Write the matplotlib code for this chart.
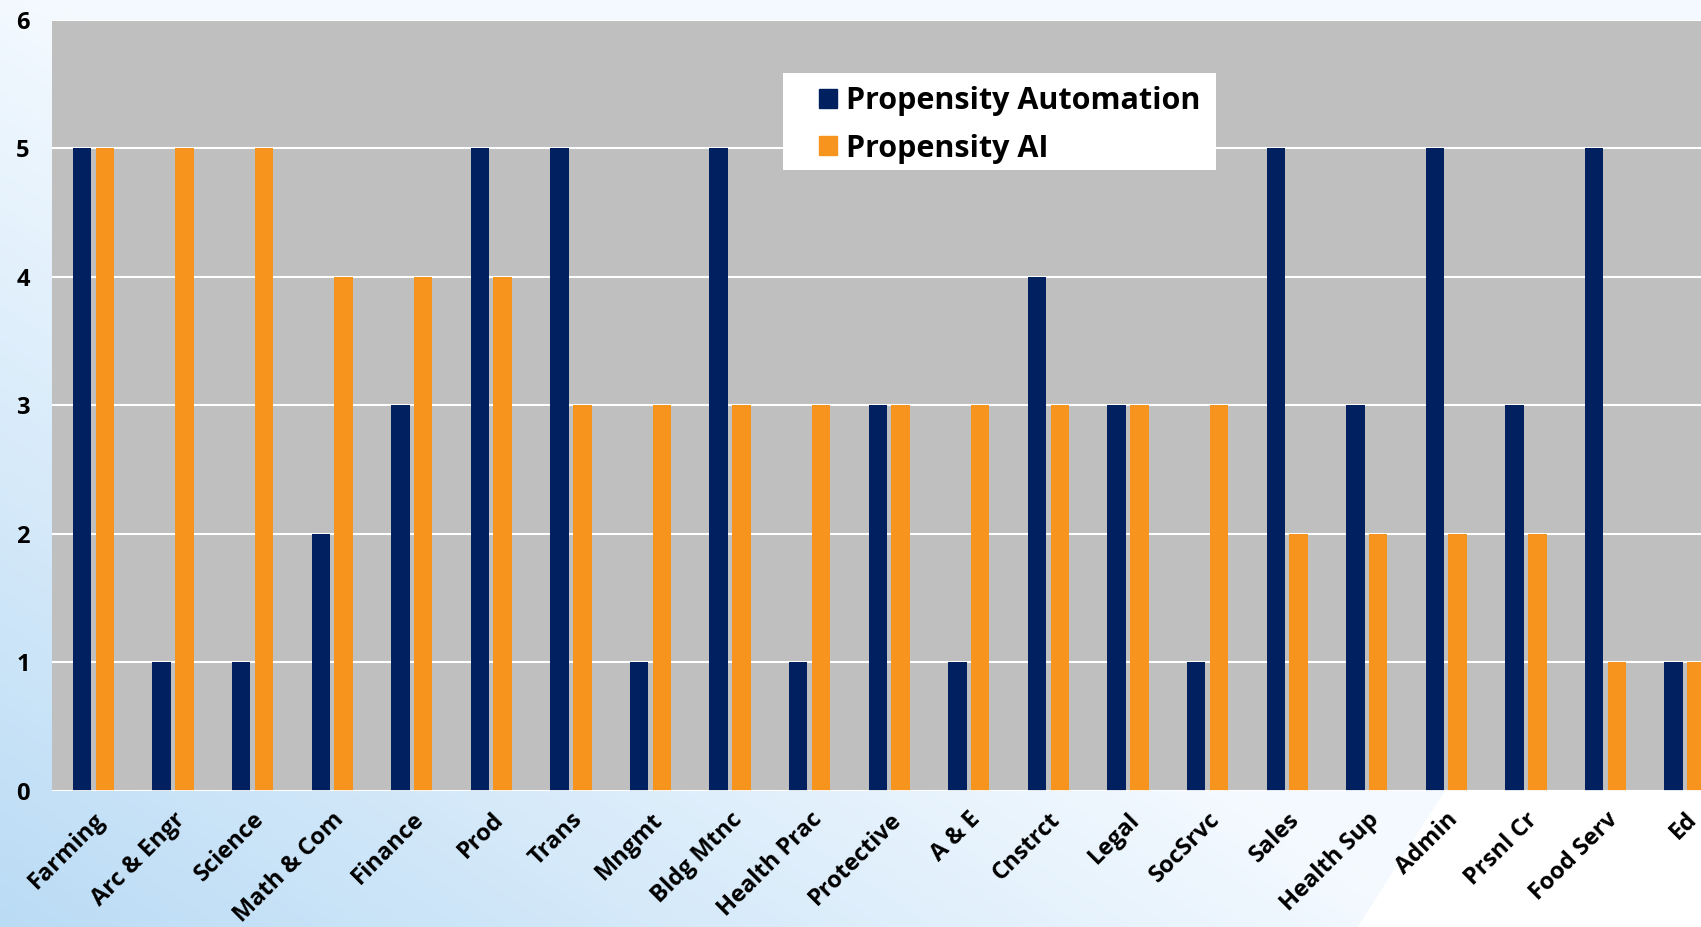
import numpy as np
import matplotlib
matplotlib.use("Agg")
import matplotlib.pyplot as plt
from matplotlib.patches import Patch, Rectangle

categories = ["Farming", "Arc & Engr", "Science", "Math & Com", "Finance", "Prod",
              "Trans", "Mngmt", "Bldg Mtnc", "Health Prac", "Protective", "A & E",
              "Cnstrct", "Legal", "SocSrvc", "Sales", "Health Sup", "Admin",
              "Prsnl Cr", "Food Serv", "Ed"]
automation = [5, 1, 1, 2, 3, 5, 5, 1, 5, 1, 3, 1, 4, 3, 1, 5, 3, 5, 3, 5, 1]
ai = [5, 5, 5, 4, 4, 4, 3, 3, 3, 3, 3, 3, 3, 3, 3, 2, 2, 2, 2, 1, 1]
y_ticks = [0, 1, 2, 3, 4, 5, 6]

NAVY = "#002060"
ORANGE = "#F7941E"
FONT = ["Open Sans", "DejaVu Sans"]

W, H = 1701, 927
fig = plt.figure(figsize=(W / 100, H / 100), dpi=100)

# background gradient: light blue bottom-left fading to white, white wedge bottom-right
yy, xx = np.mgrid[0:H, 0:W]
s = np.clip((xx + 1.5 * (H - yy)) / 1450.0, 0, 1)
blue = np.array([0.73, 0.86, 0.96])
white = np.array([0.96, 0.98, 1.0])
img = blue[None, None, :] * (1 - s[..., None]) + white[None, None, :] * s[..., None]
wedge = xx > 1356 + 0.64 * (H - yy)
img[wedge] = 1.0
bg = fig.add_axes([0, 0, 1, 1])
bg.imshow(img, aspect="auto", extent=[0, 1, 0, 1], origin="upper")
bg.axis("off")

ax = fig.add_axes([52 / W, 136 / H, 1 - 52 / W, 771.5 / H])
ax.set_facecolor("#BFBFBF")

x = np.arange(len(categories))
bw = 0.232
off = 0.143
ax.bar(x - off, automation, bw, color=NAVY, label="Propensity Automation", zorder=3)
ax.bar(x + off, ai, bw, color=ORANGE, label="Propensity AI", zorder=3)

ax.set_xlim(-0.52, 20.2)
ax.set_ylim(0, 6)
ax.set_yticks(y_ticks)
ax.set_yticklabels([str(v) for v in y_ticks], fontsize=17, fontweight="bold", family=FONT)
ax.yaxis.grid(True, color="white", linewidth=1.5, zorder=0)
ax.set_axisbelow(True)
ax.set_xticks(x)
ax.set_xticklabels(categories, rotation=45, ha="right", rotation_mode="anchor",
                   fontsize=17, fontweight="bold", family=FONT)
ax.tick_params(axis="both", length=0)
ax.tick_params(axis="y", pad=16)
ax.tick_params(axis="x", pad=12)
for sp in ax.spines.values():
    sp.set_visible(False)
ax.axhline(0, color="white", linewidth=2, zorder=4)

# legend box (white, no border) drawn behind a frameless legend
box = Rectangle((783 / W, 1 - 170 / H), (1216 - 783) / W, (170 - 73) / H,
                transform=fig.transFigure, facecolor="white", edgecolor="none", zorder=5)
fig.patches.append(box)
handles = [Patch(color=NAVY), Patch(color=ORANGE)]
leg = fig.legend(handles, ["Propensity Automation", "Propensity AI"],
                 loc="upper left", bbox_to_anchor=(819 / W, 1 - 86 / H),
                 bbox_transform=fig.transFigure, frameon=False,
                 prop={"family": FONT, "weight": "bold", "size": 22},
                 handlelength=0.58, handleheight=0.58, handletextpad=0.3,
                 borderpad=0, labelspacing=0.58, borderaxespad=0)
leg.set_zorder(6)

fig.savefig("out.png", dpi=100)
